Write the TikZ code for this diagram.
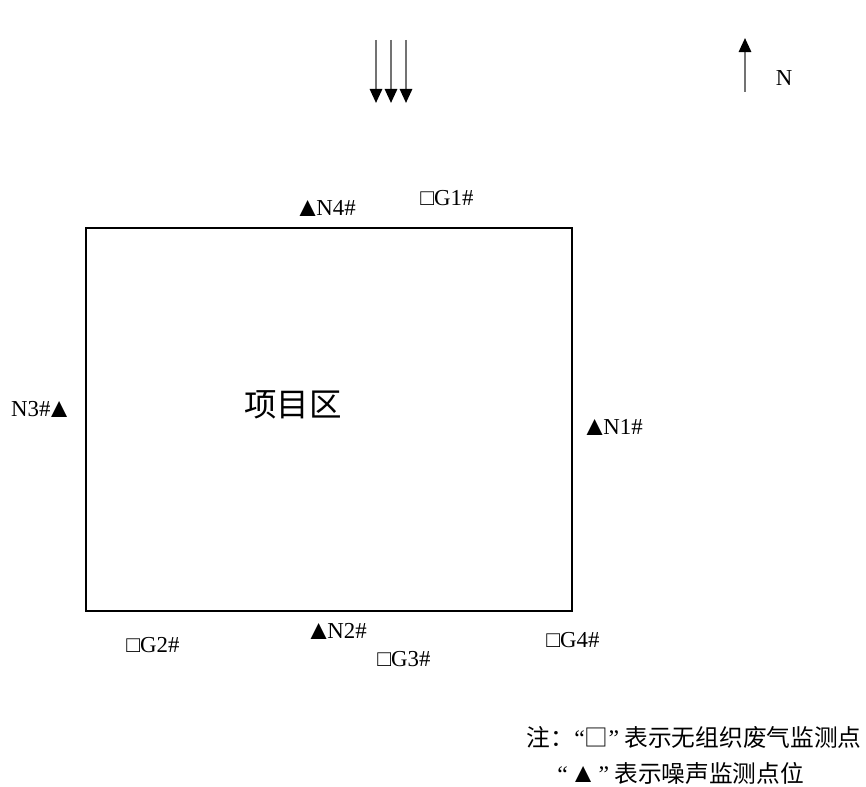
\documentclass[tikz,border=0pt]{standalone}
\usepackage{fontspec}
\setmainfont{Liberation Serif}
\newfontfamily\cjk{Noto Sans CJK SC}
\usetikzlibrary{arrows.meta}
\tikzset{lab/.style={inner sep=0pt,font=\fontsize{13pt}{15pt}\selectfont},
         windarrow/.style={draw=gray!90!black,line width=1.2pt,-{Triangle[black,length=8pt,width=7pt]}},
         note/.style={inner sep=0pt,font=\cjk\fontsize{13.5pt}{15pt}\selectfont}
         }
\newcommand{\tri}{{\rmfamily\fontsize{13pt}{15pt}\selectfont\raisebox{-0.3pt}{\scalebox{1.2}{▲}}}}
\newcommand{\openq}{{\rmfamily “}}
\newcommand{\closeq}{{\rmfamily ”}}
\begin{document}
\begin{tikzpicture}[x=0.02cm,y=-0.02cm]
  \useasboundingbox (0,0) rectangle (866,787);
  % wind arrows
  \foreach \i/\x in {1/376,2/391,3/406}
  {
    \coordinate (w\i s) at (\x,40);
    \coordinate (w\i e) at (\x,103);
    \draw[windarrow] (w\i s) -- (w\i e);
  }
  % north arrow
  \coordinate (ns) at (745,92);
  \coordinate (ne) at (745,38);
  \draw[windarrow] (ns) -- (ne);
  \node[lab] (north) at (784,78) {N};

  % project area
  \draw[line width=0.8pt] (86,228) rectangle (572,611);
  \node[inner sep=0pt,font=\cjk\fontsize{18.5pt}{20pt}\selectfont] (area) at (293,405) {项目区};

  % monitoring points
  \node[lab] (n4) at (325,208) {\tri\kern-2.8pt N4\#};
  \node[lab] (g1) at (447,198) {□G1\#};
  \node[lab] (n3) at (42,409) {N3\#\kern-2.8pt\tri};
  \node[lab] (n1) at (612,427) {\tri\kern-2.8pt N1\#};
  \node[lab] (g2) at (153,645) {□G2\#};
  \node[lab] (n2) at (336,631) {\tri\kern-2.8pt N2\#};
  \node[lab] (g3) at (404,659) {□G3\#};
  \node[lab] (g4) at (573,640) {□G4\#};

  % legend
  \node[note,anchor=east] (note1) at (862,737) {注：\openq□\closeq\kern3pt 表示无组织废气监测点};
  \node[note,anchor=west] (note2) at (557,773) {\openq\kern1pt\tri\kern1pt\closeq\kern3pt 表示噪声监测点位};
\end{tikzpicture}
\end{document}
